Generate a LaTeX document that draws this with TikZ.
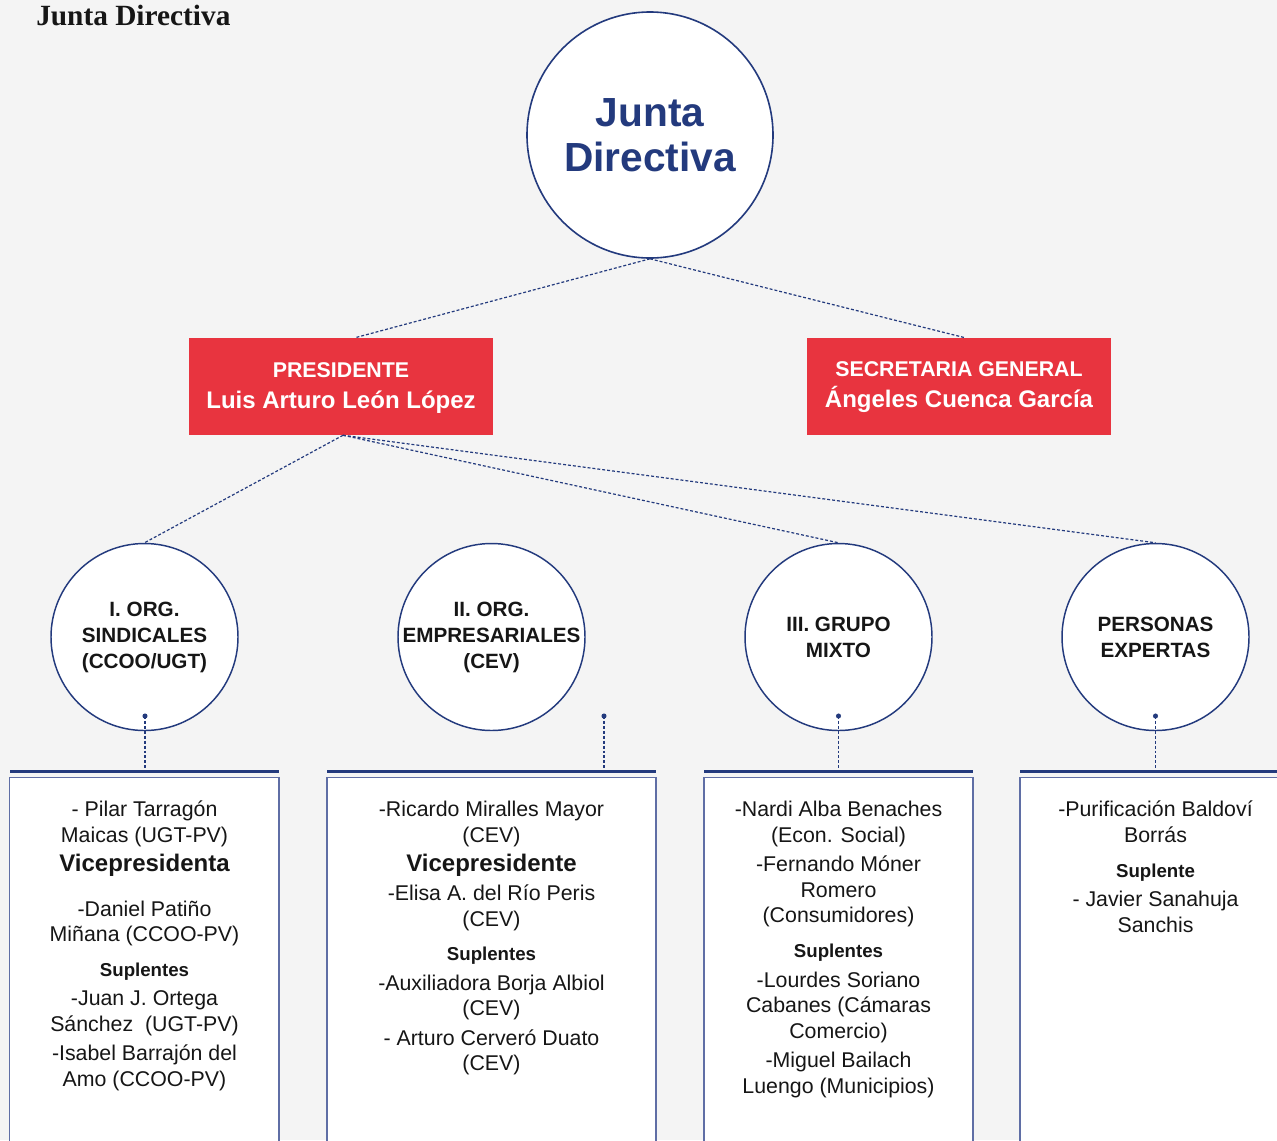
\documentclass[tikz,border=0pt]{standalone}
\usepackage{fontspec}
\setmainfont{Liberation Sans}
\newfontfamily\titlefont{Liberation Serif}
\usetikzlibrary{positioning}
\definecolor{navy}{RGB}{35,58,125}
\definecolor{boxline}{RGB}{95,110,165}
\definecolor{jred}{RGB}{232,52,63}
\definecolor{paper}{RGB}{244,244,244}
\definecolor{ink}{RGB}{22,22,22}

\begin{document}
\begin{tikzpicture}[x=0.75pt,y=-0.75pt]
  \tikzstyle{bigC}=[circle,draw=navy,line width=1.2pt,fill=white,minimum size=184.5pt,inner sep=0pt,align=center,text=navy,font=\fontsize{30.5pt}{33.75pt}\bfseries\selectfont]
  \tikzstyle{groupC}=[circle,draw=navy,line width=1.1pt,fill=white,minimum size=140.25pt,inner sep=-4pt,align=center,text=ink,font=\fontsize{15.5pt}{19.5pt}\bfseries\selectfont]
  \tikzstyle{redbox}=[rectangle,fill=jred,minimum width=228pt,minimum height=72.75pt,inner sep=0pt]
  \tikzstyle{redS}=[text=white,inner sep=0pt,text depth=0pt,text height=11.5pt,font=\fontsize{16pt}{19pt}\bfseries\selectfont]
  \tikzstyle{redL}=[text=white,inner sep=0pt,text depth=0pt,text height=12.9pt,font=\fontsize{18pt}{21pt}\bfseries\selectfont]
  \tikzstyle{link}=[navy,line width=0.9pt,dash pattern=on 2.2pt off 1.5pt]
  \tikzstyle{boxtop}=[navy,line width=1.9pt]
  \tikzstyle{boxframe}=[boxline,line width=1.1pt,fill=white]
  \tikzstyle{ln}=[text=ink,inner sep=0pt,text depth=0pt,text height=11.5pt,font=\fontsize{16pt}{19pt}\selectfont]
  \tikzstyle{vp}=[text=ink,inner sep=0pt,text depth=0pt,text height=12.9pt,font=\fontsize{18pt}{21pt}\bfseries\selectfont]
  \tikzstyle{sp}=[text=ink,inner sep=0pt,text depth=0pt,text height=10pt,font=\fontsize{14pt}{17pt}\bfseries\selectfont]

  % page
  \fill[paper] (0,0) rectangle (1277,1140);
  \useasboundingbox (0,0) rectangle (1277,1140);
  \clip (0,0) rectangle (1277,1140);

  \node[anchor=base west,inner sep=0pt,text=ink,font=\titlefont\fontsize{22pt}{24pt}\bfseries\selectfont] (title) at (36,25) {Junta Directiva};

  % top level
  \node[bigC] (junta) at (650,135) {Junta\\Directiva};
  \node[redbox] (pres) at (341,386.5) {};
  \node[redbox] (sec) at (959,386.5) {};
  \node[redS] (pres-t) at (341,370) {PRESIDENTE};
  \node[redL] (pres-n) at (341,400) {Luis Arturo León López};
  \node[redS] (sec-t) at (959,369) {SECRETARIA GENERAL};
  \node[redL] (sec-n) at (959,399) {Ángeles Cuenca García};

  \draw[link] (junta.south) -- ([xshift=10.5pt]pres.north);
  \draw[link] (junta.south) -- ([xshift=4.5pt]sec.north);

  % groups
  \node[groupC] (sind) at (144.5,637) {I. ORG.\\SINDICALES\\(CCOO/UGT)};
  \node[groupC] (empr) at (491.5,637) {II. ORG.\\EMPRESARIALES\\(CEV)};
  \node[groupC] (mixt) at (838.5,637) {III. GRUPO\\MIXTO};
  \node[groupC] (expe) at (1155.5,637) {PERSONAS\\EXPERTAS};

  \draw[link] ([xshift=1.5pt]pres.south) -- (sind.north);
  \draw[link] ([xshift=1.5pt]pres.south) -- (mixt.north);
  \draw[link] ([xshift=1.5pt]pres.south) -- (expe.north);

  % member boxes
  \draw[boxframe] (9.5,777.5) rectangle (279,1160);
  \draw[boxframe] (327,777.5) rectangle (656,1160);
  \draw[boxframe] (704,777.5) rectangle (973,1160);
  \draw[boxframe] (1020,777.5) rectangle (1300,1160);
  \draw[boxtop] (10,771.5) -- (279,771.5);
  \draw[boxtop] (327,771.5) -- (656,771.5);
  \draw[boxtop] (704,771.5) -- (973,771.5);
  \draw[boxtop] (1020,771.5) -- (1290,771.5);

  \foreach \x [count=\i] in {145,604,838.5,1155.5} {
    \coordinate (dot\i) at (\x,716);
    \coordinate (top\i) at (\x,770);
    \fill[navy] (dot\i) circle (1.9pt);
    \draw[link] (dot\i) -- (top\i);
  }

  \foreach \y/\s/\t [count=\i] in {809/ln/{- Pilar Tarragón}, 835/ln/{Maicas (UGT-PV)},
      863/vp/{Vicepresidenta}, 909/ln/{-Daniel Patiño}, 934/ln/{Miñana (CCOO-PV)},
      970/sp/{Suplentes}, 998/ln/{-Juan J. Ortega}, 1024/ln/{Sánchez~ (UGT-PV)},
      1053/ln/{-Isabel Barrajón del}, 1079/ln/{Amo (CCOO-PV)}}
    \node[\s] (sind-\i) at (144.5,\y) {\t};

  \foreach \y/\s/\t [count=\i] in {809/ln/{-Ricardo Miralles Mayor}, 835/ln/{(CEV)},
      863/vp/{Vicepresidente}, 893/ln/{-Elisa A. del Río Peris}, 919/ln/{(CEV)},
      954/sp/{Suplentes}, 983/ln/{-Auxiliadora Borja Albiol}, 1008/ln/{(CEV)},
      1038/ln/{- Arturo Cerveró Duato}, 1063/ln/{(CEV)}}
    \node[\s] (empr-\i) at (491.5,\y) {\t};

  \foreach \y/\s/\t [count=\i] in {809/ln/{-Nardi Alba Benaches}, 835/ln/{(Econ. Social)},
      864/ln/{-Fernando Móner}, 890/ln/{Romero}, 915/ln/{(Consumidores)},
      951/sp/{Suplentes}, 980/ln/{-Lourdes Soriano}, 1005/ln/{Cabanes (Cámaras},
      1031/ln/{Comercio)}, 1060/ln/{-Miguel Bailach}, 1086/ln/{Luengo (Municipios)}}
    \node[\s] (mixt-\i) at (838.5,\y) {\t};

  \foreach \y/\s/\t [count=\i] in {809/ln/{-Purificación Baldoví}, 835/ln/{Borrás},
      871/sp/{Suplente}, 899/ln/{- Javier Sanahuja}, 925/ln/{Sanchis}}
    \node[\s] (expe-\i) at (1155.5,\y) {\t};
\end{tikzpicture}
\end{document}
